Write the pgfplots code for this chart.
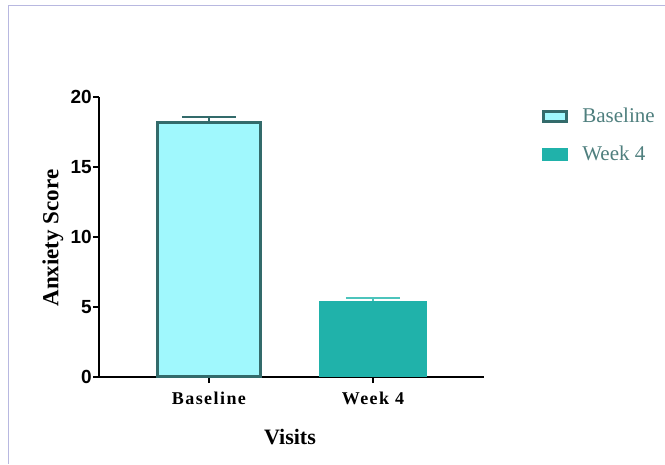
\documentclass[border=0pt]{standalone}
\usepackage{pgfplots}
\pgfplotsset{compat=1.18}
\usepackage{fontspec}
\setmainfont{Liberation Serif}
\newfontfamily\arialf{Liberation Sans}
\newfontfamily\bsp[LetterSpace=8]{Liberation Serif}
\definecolor{bfill}{HTML}{A0F8FD}
\definecolor{bdraw}{HTML}{336B6B}
\definecolor{wfill}{HTML}{20B2AA}
\definecolor{werr}{HTML}{4CC4BC}
\definecolor{frame}{HTML}{B8B8E0}
\definecolor{legtext}{HTML}{4F7F7E}
\begin{document}
\begin{tikzpicture}
\path[use as bounding box] (0pt,0pt) rectangle (665pt,464pt);
\draw[color=frame, line width=1pt] (8pt,0pt) -- (8pt,458pt) -- (665pt,458pt);
\begin{axis}[
  at={(99pt,87pt)}, anchor=south west,
  scale only axis, width=385pt, height=280pt,
  xmin=-0.67, xmax=1.677, ymin=0, ymax=20,
  axis x line*=bottom, axis y line*=left,
  axis line style={line width=2pt, black},
  every tick/.style={line width=2pt, black},
  major tick length=6pt, tick align=outside,
  /pgf/number format/assume math mode=true,
  ytick={0,5,10,15,20},
  xtick={0,1}, xticklabels={Baseline, Week 4},
  yticklabel style={font=\arialf\bfseries\fontsize{19}{19}\selectfont, inner sep=1pt},
  xticklabel style={font=\bsp\bfseries\fontsize{18}{18}\selectfont, yshift=-5pt},
  xlabel={Visits}, ylabel={Anxiety Score},
  xlabel style={font=\bfseries\fontsize{22}{22}\selectfont, at={(axis description cs:0.496,0)}, anchor=center, yshift=-60pt},
  ylabel style={font=\bfseries\fontsize{23}{23}\selectfont, at={(axis description cs:-0.12,0.496)}, anchor=center},
  legend style={draw=none, fill=none, at={(1.151,0.968)}, anchor=north west,
    font=\fontsize{21}{21}\selectfont, text=legtext, row sep=18pt,
    legend cell align=left, inner sep=0pt,
    /tikz/every odd column/.style={column sep=12pt}},
  clip=false,
]
\addplot[ybar, bar width=103pt, bar shift=0pt, fill=bfill, draw=bdraw, line width=3pt,
  legend image code/.code={\draw[fill=bfill, draw=bdraw, line width=3pt] (1.5pt,-5pt) rectangle (24.5pt,5pt);},
  error bars/.cd, y dir=plus, y explicit, error mark=|,
  error bar style={line width=2pt, color=bdraw},
  error mark options={line width=2pt, mark size=27pt, color=bdraw}]
  coordinates {(0,18.18) +- (0,0.41)};
\addlegendentry{Baseline}
\addplot[ybar, bar width=108pt, bar shift=0pt, fill=wfill, draw=none,
  legend image code/.code={\fill[wfill] (0pt,-6.5pt) rectangle (26pt,6.5pt);},
  error bars/.cd, y dir=plus, y explicit, error mark=|,
  error bar style={line width=2pt, color=werr},
  error mark options={line width=2pt, mark size=27pt, color=werr}]
  coordinates {(1,5.45) +- (0,0.21)};
\addlegendentry{Week 4}
\end{axis}
\end{tikzpicture}
\end{document}
